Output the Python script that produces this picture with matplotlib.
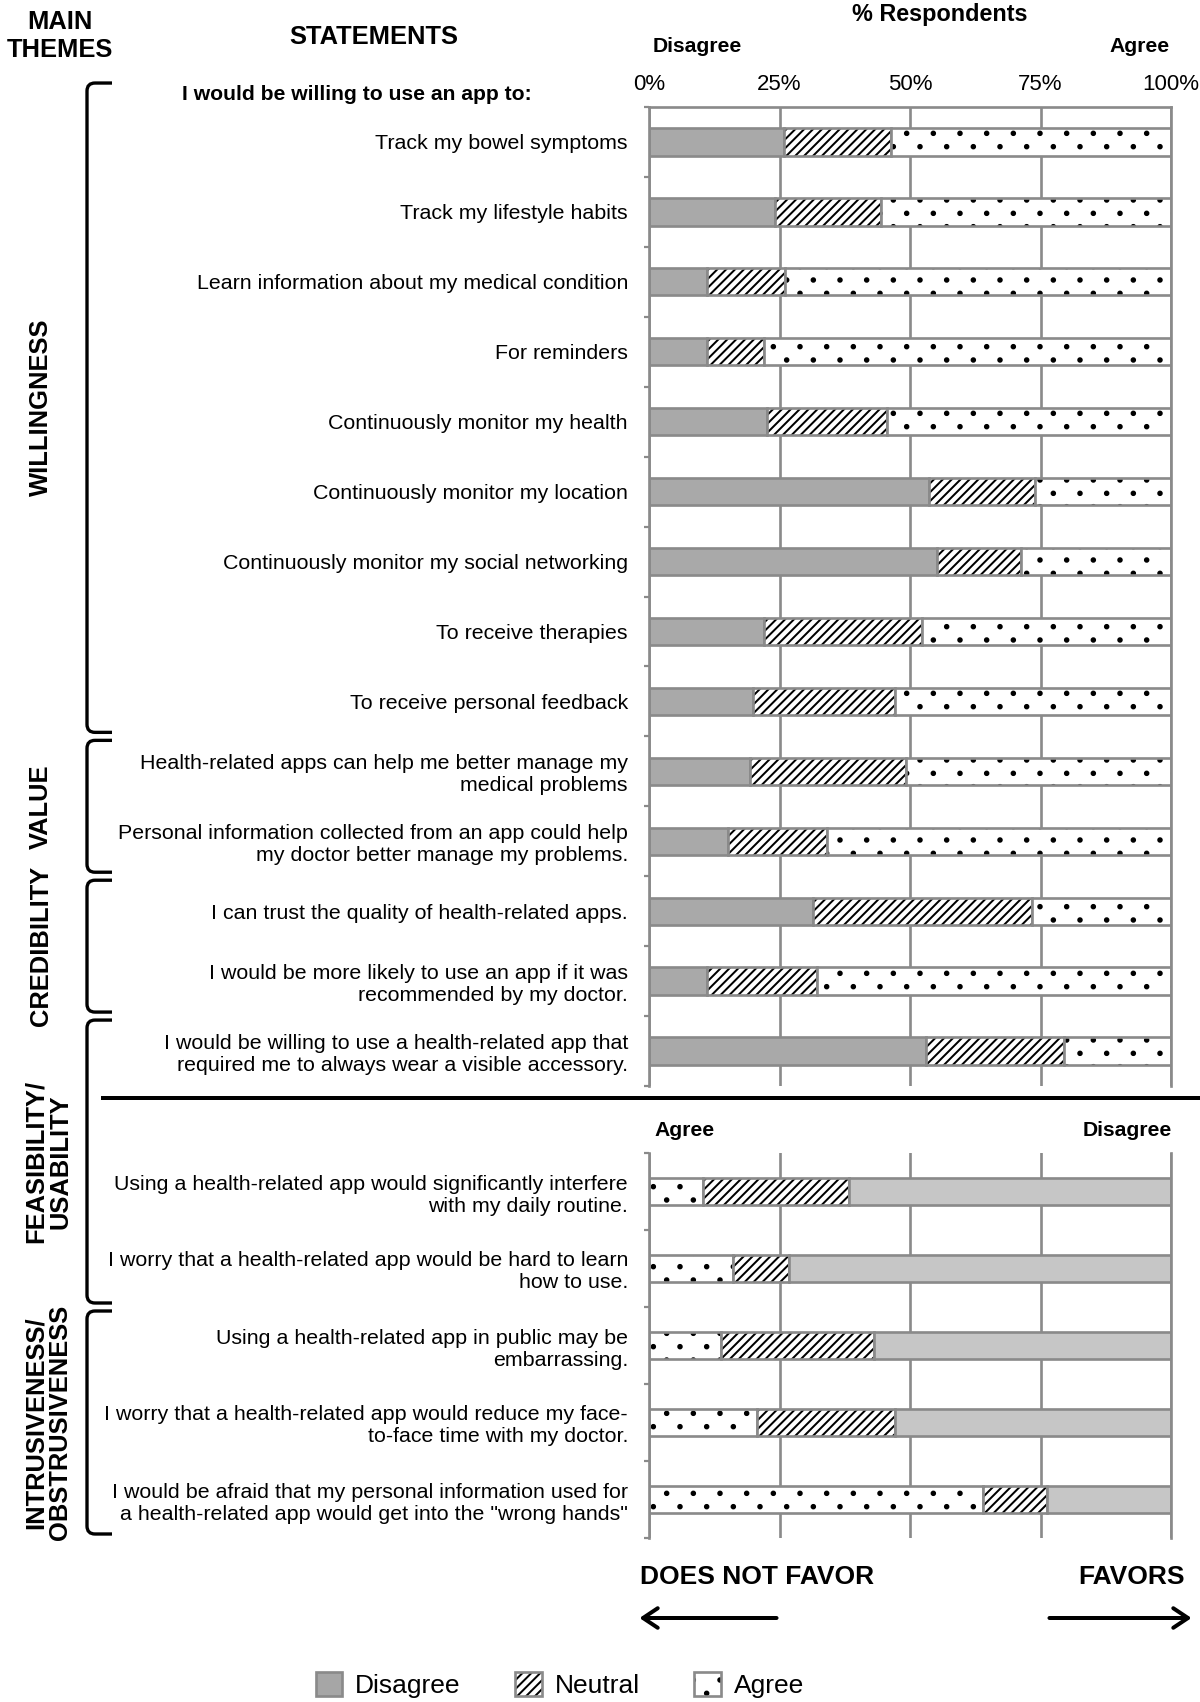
import numpy as np
import matplotlib
matplotlib.use("Agg")
import matplotlib.pyplot as plt
import matplotlib.hatch as mhatch
from matplotlib.patches import Rectangle, PathPatch, FancyArrowPatch
from matplotlib.path import Path
from matplotlib.lines import Line2D

plt.rcParams['font.family'] = ['Liberation Sans', 'DejaVu Sans']
plt.rcParams['hatch.linewidth'] = 0.9

W, H, DPI = 1200, 1702, 160

# ---- data (% respondents) ----
top_statements = [
    "Track my bowel symptoms",
    "Track my lifestyle habits",
    "Learn information about my medical condition",
    "For reminders",
    "Continuously monitor my health",
    "Continuously monitor my location",
    "Continuously monitor my social networking",
    "To receive therapies",
    "To receive personal feedback",
    "Health-related apps can help me better manage my\nmedical problems",
    "Personal information collected from an app could help\nmy doctor better manage my problems.",
    "I can trust the quality of health-related apps.",
    "I would be more likely to use an app if it was\nrecommended by my doctor.",
    "I would be willing to use a health-related app that\nrequired me to always wear a visible accessory.",
]
top_disagree = [25.8, 24.1, 11.1, 11.1, 22.7, 53.7, 55.1, 22.0, 20.0, 19.3, 15.2, 31.4, 11.2, 53.1]
top_neutral = [20.5, 20.3, 15.0, 10.9, 22.9, 20.3, 16.2, 30.3, 27.1, 29.9, 18.9, 41.9, 20.9, 26.4]
top_agree = [53.7, 55.6, 73.9, 78.0, 54.4, 26.0, 28.7, 47.7, 52.9, 50.8, 65.9, 26.7, 67.9, 20.5]

bottom_statements = [
    "Using a health-related app would significantly interfere\nwith my daily routine.",
    "I worry that a health-related app would be hard to learn\nhow to use.",
    "Using a health-related app in public may be\nembarrassing.",
    "I worry that a health-related app would reduce my face-\nto-face time with my doctor.",
    "I would be afraid that my personal information used for\na health-related app would get into the \"wrong hands\"",
]
bottom_agree = [10.3, 16.0, 13.8, 20.6, 64.0]
bottom_neutral = [28.0, 10.8, 29.3, 26.5, 12.3]
bottom_disagree = [61.7, 73.2, 56.9, 52.9, 23.7]

tick_vals = [0, 25, 50, 75, 100]
tick_labels = ['0%', '25%', '50%', '75%', '100%']

themes = ['WILLINGNESS', 'VALUE', 'CREDIBILITY', 'FEASIBILITY/\nUSABILITY',
          'INTRUSIVENESS/\nOBSTRUSIVENESS']
theme_rows = [(0, 8), (9, 10), (11, 12), (13, 15), (16, 18)]  # rows across both panels

legend_labels = ['Disagree', 'Neutral', 'Agree']

GRID = '#8a8a8a'
GRAY_TOP = '#a9a9a9'
GRAY_BOT = '#c6c6c6'
NEUTRAL_HATCH = '//////'
AGREE_HATCH = '.'


# sparser dot hatch: small dots, staggered rows at half the column pitch
class SparseDots(mhatch.SmallFilledCircles):
    size = 0.065

    def __init__(self, hatch, density):
        super().__init__(hatch, density)
        k = self.num_rows
        if k:
            self.num_shapes = (k + 1) * (k + 1) + k * k
            self.num_vertices = self.num_shapes * len(self.shape_vertices)

    def set_vertices_and_codes(self, vertices, codes):
        k = self.num_rows
        step = 1.0 / k
        shape = self.shape_vertices * step * self.size
        vparts, cparts = [], []
        for row in range(2 * k + 1):
            if row % 2 == 0:
                cols = np.linspace(0, 1, k + 1)
            else:
                cols = np.linspace(step / 2, 1 - step / 2, k)
            for c in cols:
                vparts.append(shape + [c, row * step / 2])
                cparts.append(self.shape_codes)
        np.concatenate(vparts, out=vertices)
        np.concatenate(cparts, out=codes)


try:
    i = mhatch._hatch_types.index(mhatch.SmallFilledCircles)
    mhatch._hatch_types[i] = SparseDots
except (AttributeError, ValueError):
    pass


def fx(px):
    return px / W


def fy(py):
    return 1 - py / H


def segment(ax, y, left, width, face, hatch, h):
    ax.barh(y, width, left=left, height=h, color=face, linewidth=0)
    if hatch:
        ax.barh(y, width, left=left, height=h, facecolor='none', edgecolor='black',
                linewidth=0, hatch=hatch)
    ax.barh(y, width, left=left, height=h, fill=False, edgecolor=GRID, linewidth=1.2)


def style_axes(ax, labels):
    n = len(labels)
    ax.set_xlim(0, 100)
    ax.set_ylim(n - 0.5, -0.5)
    ax.set_yticks(range(n))
    ax.set_yticklabels(labels, fontsize=9.6, linespacing=1.2)
    ax.set_yticks(np.arange(n + 1) - 0.5, minor=True)
    ax.tick_params(axis='y', which='major', length=0, pad=9.5)
    ax.tick_params(axis='y', which='minor', length=2.2, width=1.0, color=GRID, direction='out')
    ax.set_xticks(tick_vals)
    ax.grid(axis='x', color=GRID, lw=1.2)
    ax.set_axisbelow(True)
    for s in ax.spines.values():
        s.set_color(GRID)
        s.set_linewidth(1.2)
    ax.spines['bottom'].set_visible(False)


fig = plt.figure(figsize=(W / DPI, H / DPI), dpi=DPI)
ax_top = fig.add_axes([fx(649), fy(1086), fx(1171) - fx(649), fy(107) - fy(1086)])
ax_bot = fig.add_axes([fx(649), fy(1538), fx(1171) - fx(649), fy(1153) - fy(1538)])

# upper panel: Disagree | Neutral | Agree
style_axes(ax_top, top_statements)
ax_top.xaxis.tick_top()
ax_top.set_xticklabels(tick_labels, fontsize=10)
ax_top.tick_params(axis='x', length=0, pad=5.5)
y = np.arange(len(top_statements))
d = np.array(top_disagree)
n = np.array(top_neutral)
a = np.array(top_agree)
segment(ax_top, y, 0, d, GRAY_TOP, None, 0.39)
segment(ax_top, y, d, n, 'white', NEUTRAL_HATCH, 0.39)
segment(ax_top, y, d + n, a, 'white', AGREE_HATCH, 0.39)

# lower panel: Agree | Neutral | Disagree
style_axes(ax_bot, bottom_statements)
ax_bot.spines['top'].set_visible(False)
ax_bot.tick_params(axis='x', length=0, labelbottom=False, labeltop=False)
y = np.arange(len(bottom_statements))
a = np.array(bottom_agree)
n = np.array(bottom_neutral)
d = np.array(bottom_disagree)
segment(ax_bot, y, 0, a, 'white', AGREE_HATCH, 0.35)
segment(ax_bot, y, a, n, 'white', NEUTRAL_HATCH, 0.35)
segment(ax_bot, y, a + n, d, GRAY_BOT, None, 0.35)

# headers
bold = dict(fontweight='bold')
fig.text(fx(60), fy(36), 'MAIN\nTHEMES', ha='center', va='center', fontsize=11.5,
         linespacing=1.25, **bold)
fig.text(fx(374), fy(37), 'STATEMENTS', ha='center', va='center', fontsize=11.5, **bold)
fig.text(fx(940), fy(15), '% Respondents', ha='center', va='center', fontsize=10.5, **bold)
fig.text(fx(653), fy(47), 'Disagree', ha='left', va='center', fontsize=9.5, **bold)
fig.text(fx(1170), fy(47), 'Agree', ha='right', va='center', fontsize=9.5, **bold)
fig.text(fx(182), fy(94), 'I would be willing to use an app to:', ha='left', va='center',
         fontsize=9.5, **bold)
fig.text(fx(654), fy(1130), 'Agree', ha='left', va='center', fontsize=9.5, **bold)
fig.text(fx(1172), fy(1130), 'Disagree', ha='right', va='center', fontsize=9.5, **bold)

# separator between the two panels
fig.add_artist(Line2D([fx(103), fx(1199)], [fy(1098), fy(1098)], color='black', lw=1.8))


# theme brackets
def row_py(g):
    ax, r = (ax_top, g) if g < 13.5 else (ax_bot, g - 14)
    return H - ax.transData.transform((0, r))[1]


def bracket(y0, y1, x0=87, x1=112, r=8):
    verts = [(x1, y0), (x0 + r, y0), (x0, y0), (x0, y0 + r), (x0, y1 - r),
             (x0, y1), (x0 + r, y1), (x1, y1)]
    codes = [Path.MOVETO, Path.LINETO, Path.CURVE3, Path.CURVE3, Path.LINETO,
             Path.CURVE3, Path.CURVE3, Path.LINETO]
    verts = [(fx(vx), fy(vy)) for vx, vy in verts]
    fig.add_artist(PathPatch(Path(verts, codes), fill=False, lw=1.5, edgecolor='black',
                             transform=fig.transFigure))


for i, (name, (r0, r1)) in enumerate(zip(themes, theme_rows)):
    start = r0 - 0.9 if i == 0 else r0 - 0.5
    py0 = row_py(start) + 4
    py1 = row_py(r1 + 0.5) - 4
    bracket(py0, py1)
    xc = 48 if '\n' in name else 41
    fig.text(fx(xc), fy((py0 + py1) / 2), name, rotation=90, ha='center', va='center',
             fontsize=11.5, linespacing=1.05, multialignment='center', **bold)

# favour arrows
fig.text(fx(640), fy(1577), 'DOES NOT FAVOR', ha='left', va='center', fontsize=11.9, **bold)
fig.text(fx(1185), fy(1577), 'FAVORS', ha='right', va='center', fontsize=11.9, **bold)
for xa, xb in [(781, 635), (1045, 1196)]:
    fig.add_artist(FancyArrowPatch((fx(xa), fy(1618)), (fx(xb), fy(1618)),
                                   transform=fig.transFigure,
                                   arrowstyle='->,head_length=0.6,head_width=0.4',
                                   mutation_scale=11, lw=1.8, color='black'))

# legend
h_dis = Rectangle((0, 0), 1, 1, facecolor='#a6a6a6', edgecolor=GRID, lw=1.2)
h_neu = (Rectangle((0, 0), 1, 1, facecolor='white', edgecolor='black', lw=0, hatch=NEUTRAL_HATCH),
         Rectangle((0, 0), 1, 1, fill=False, edgecolor=GRID, lw=1.2))
h_agr = (Rectangle((0, 0), 1, 1, facecolor='white', edgecolor='black', lw=0, hatch=AGREE_HATCH),
         Rectangle((0, 0), 1, 1, fill=False, edgecolor=GRID, lw=1.2))
fig.legend([h_dis, h_neu, h_agr], legend_labels, loc='center',
           bbox_to_anchor=(fx(560), fy(1685)), ncol=3, frameon=False, fontsize=11.9,
           handlelength=1.0, handleheight=1.0, handletextpad=0.5, columnspacing=2.06)

fig.savefig('out.png', dpi=DPI)
